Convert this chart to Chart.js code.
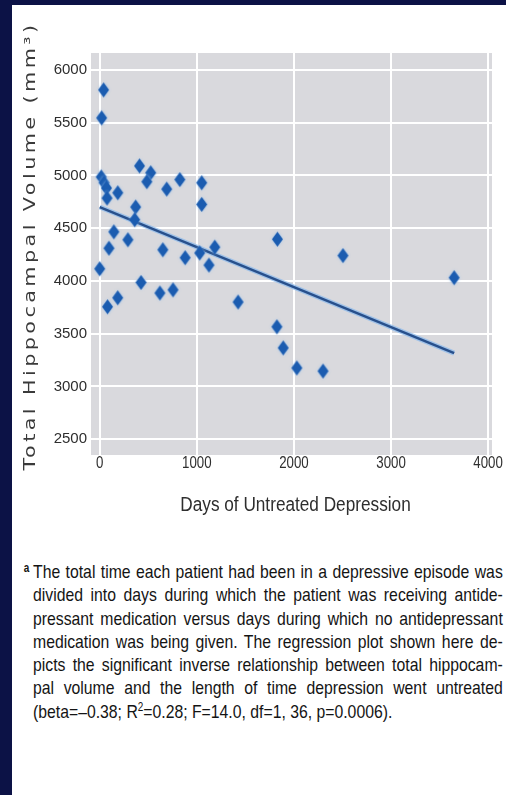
<!DOCTYPE html>
<html>
<head>
<meta charset="utf-8">
<script src="https://cdn.jsdelivr.net/npm/chart.js@4.4.1/dist/chart.umd.min.js"></script>
<style>
  html, body { margin: 0; padding: 0; background: #0c1246; }
  body { width: 506px; height: 795px; overflow: hidden; position: relative; }
  #page { position: absolute; left: 12px; top: 5px; width: 494px; height: 790px; background: #fff; }
  #wrap { position: absolute; left: 0; top: 0; width: 494px; height: 515px; }
  #note {
    position: absolute; left: 21px; top: 555px; width: 566px;
    transform: scaleX(0.83); transform-origin: 0 0;
    font-family: "Liberation Sans", Arial, sans-serif;
    font-size: 19px; line-height: 23.3px; color: #141414;
  }
  #note .ln { text-align: justify; text-align-last: justify; white-space: nowrap; }
  #note .ln.last { text-align-last: left; }
  #note .mark { position: absolute; left: -11px; top: -3px; font-size: 12px; font-weight: bold; }
  #note sup { font-size: 12px; line-height: 0; }
</style>
</head>
<body>
<div id="page">
  <div id="wrap"><canvas id="chart" width="494" height="515"></canvas></div>
  <div id="note">
    <span class="mark">a</span>
    <div class="ln">The total time each patient had been in a depressive episode was</div>
    <div class="ln">divided into days during which the patient was receiving antide-</div>
    <div class="ln">pressant medication versus days during which no antidepressant</div>
    <div class="ln">medication was being given. The regression plot shown here de-</div>
    <div class="ln">picts the significant inverse relationship between total hippocam-</div>
    <div class="ln">pal volume and the length of time depression went untreated</div>
    <div class="ln last">(beta=–0.38; R<sup>2</sup>=0.28; F=14.0, df=1, 36, p=0.0006).</div>
  </div>
</div>
<script>
// Days of untreated depression per patient and total hippocampal volume (mm³)
const untreatedDays = [40, 20, 410, 525, 485, 15, 45, 70, 75, 186, 690, 825, 1050, 1050,
  370, 360, 145, 290, 95, 650, 880, 1030, 1185, 1125, 0, 425, 620, 755, 80, 185,
  1830, 2505, 3650, 1425, 1825, 1890, 2030, 2300];
const hippoVolume = [5810, 5545, 5090, 5025, 4940, 4985, 4930, 4880, 4785, 4835, 4870, 4960, 4930, 4725,
  4700, 4580, 4465, 4390, 4310, 4295, 4220, 4265, 4320, 4150, 4115, 3985, 3885, 3915, 3755, 3840,
  4395, 4240, 4030, 3800, 3565, 3365, 3175, 3145];

// Regression line end points
const fitDays = [0, 3650];
const fitVolume = [4700, 3316];

// Axis ticks
const xTicks = [0, 1000, 2000, 3000, 4000];
const yTicks = [2500, 3000, 3500, 4000, 4500, 5000, 5500, 6000];

const xTitle = 'Days of Untreated Depression';
const yTitle = 'Total Hippocampal Volume (mm³)';

// Tall diamond marker with a soft halo
function diamond(w, h, color) {
  const pad = 3;
  const c = document.createElement('canvas');
  c.width = w + pad * 2; c.height = h + pad * 2;
  const g = c.getContext('2d');
  g.shadowColor = 'rgba(150,195,240,0.8)';
  g.shadowBlur = 3;
  g.fillStyle = color;
  g.beginPath();
  g.moveTo(pad + w / 2, pad);
  g.lineTo(pad + w, pad + h / 2);
  g.lineTo(pad + w / 2, pad + h);
  g.lineTo(pad, pad + h / 2);
  g.closePath();
  g.fill();
  return c;
}
const marker = diamond(11, 15, '#1b5cb0');

const plotBackground = {
  id: 'plotBackground',
  beforeDraw(chart) {
    const { ctx, chartArea: a } = chart;
    ctx.save();
    ctx.fillStyle = '#d9d9dd';
    ctx.fillRect(a.left, a.top, a.right - a.left, a.bottom - a.top);
    ctx.restore();
  }
};

// Condensed-looking axis texts: x tick labels, x title and the spaced vertical title
const axisTexts = {
  id: 'axisTexts',
  afterDraw(chart) {
    const ctx = chart.ctx;
    const xs = chart.scales.x;
    const bottom = chart.chartArea.bottom;

    ctx.save();
    ctx.fillStyle = '#2e2e2e';
    ctx.textAlign = 'center';
    ctx.textBaseline = 'middle';
    ctx.font = '17px "Liberation Sans", Arial, sans-serif';
    xTicks.forEach(v => {
      ctx.save();
      ctx.translate(xs.getPixelForValue(v), bottom + 8);
      ctx.scale(0.78, 1);
      ctx.fillText(String(v), 0, 0);
      ctx.restore();
    });

    ctx.save();
    ctx.translate((chart.chartArea.left + chart.chartArea.right) / 2 + 4, 500);
    ctx.scale(0.86, 1);
    ctx.font = '20px "Liberation Sans", Arial, sans-serif';
    ctx.fillText(xTitle, 0, 0);
    ctx.restore();

    ctx.save();
    ctx.translate(19, 241);
    ctx.rotate(-Math.PI / 2);
    ctx.scale(1.3, 1);
    ctx.font = '16px "DejaVu Sans", Verdana, sans-serif';
    ctx.letterSpacing = '2.6px';
    ctx.fillStyle = '#3a3a3a';
    ctx.fillText(yTitle, 0, 0);
    ctx.restore();
    ctx.restore();
  }
};

const points = untreatedDays.map((d, i) => ({ x: d, y: hippoVolume[i] }));
const fit = fitDays.map((d, i) => ({ x: d, y: fitVolume[i] }));

new Chart(document.getElementById('chart'), {
  type: 'scatter',
  data: {
    datasets: [
      {
        type: 'line', data: fit, borderColor: 'rgba(140,185,235,0.75)', borderWidth: 5,
        pointRadius: 0, fill: false, order: 3
      },
      {
        type: 'line', data: fit, borderColor: '#28508c', borderWidth: 2.5,
        pointRadius: 0, fill: false, order: 2
      },
      {
        data: points, pointStyle: marker, pointRadius: 7, order: 1
      }
    ]
  },
  options: {
    responsive: false,
    devicePixelRatio: 1,
    animation: false,
    layout: { padding: { left: 0, right: 14, top: 48, bottom: 0 } },
    plugins: { legend: { display: false }, tooltip: { enabled: false } },
    scales: {
      x: {
        type: 'linear', min: -90, max: 4040,
        afterBuildTicks: s => { s.ticks = xTicks.map(v => ({ value: v })); },
        afterFit: s => { s.height = 65; },
        grid: { color: '#ffffff', lineWidth: 2, drawTicks: false },
        border: { display: false },
        ticks: { display: false }
      },
      y: {
        type: 'linear', min: 2350, max: 6160,
        afterBuildTicks: s => { s.ticks = yTicks.map(v => ({ value: v })); },
        afterFit: s => { s.width = 79; },
        grid: { color: '#ffffff', lineWidth: 2, drawTicks: false },
        border: { display: false },
        ticks: {
          padding: 4, color: '#2e2e2e',
          callback: v => String(v),
          font: { family: '"Liberation Sans", Arial, sans-serif', size: 15 }
        }
      }
    }
  },
  plugins: [plotBackground, axisTexts]
});
</script>
</body>
</html>
